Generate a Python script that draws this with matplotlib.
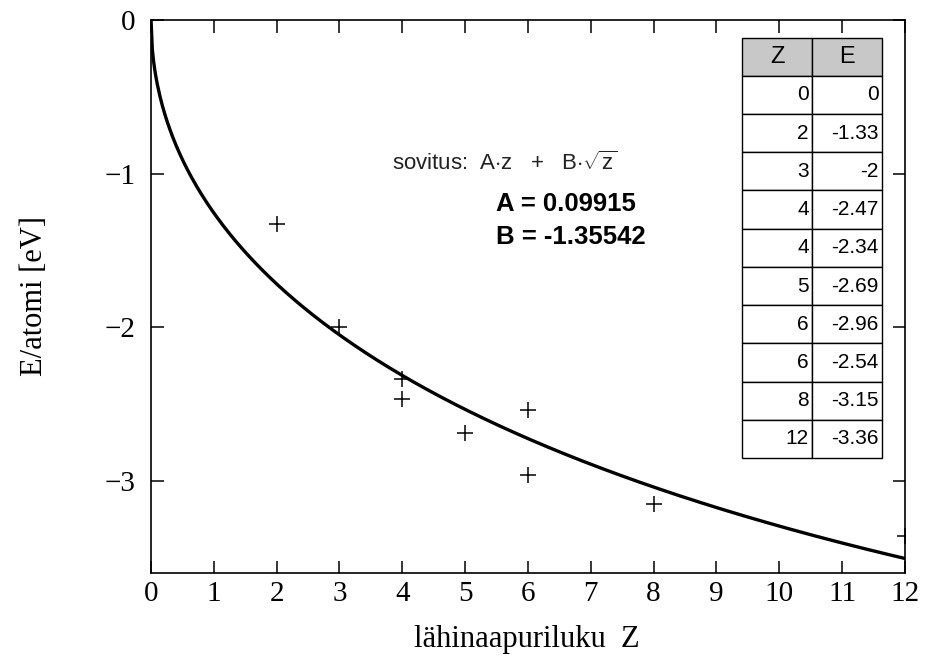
import matplotlib.pyplot as plt
import numpy as np

z_values = [0, 2, 3, 4, 4, 5, 6, 6, 8, 12]
E_values = [0, -1.33, -2, -2.47, -2.34, -2.69, -2.96, -2.54, -3.15, -3.36]
E_labels = ['0', '-1.33', '-2', '-2.47', '-2.34', '-2.69', '-2.96', '-2.54', '-3.15', '-3.36']

# fit parameters
A = 0.09915
B = -1.35542

plt.rcParams['mathtext.fontset'] = 'custom'
plt.rcParams['mathtext.rm'] = 'Liberation Sans'
plt.rcParams['mathtext.it'] = 'Liberation Sans'

fig = plt.figure(figsize=(9.3, 6.7), dpi=100)
ax = fig.add_axes([0.1624, 0.1448, 0.8106, 0.8254])

z_fit = np.linspace(0, 12, 600)
ax.plot(z_fit, A * z_fit + B * np.sqrt(z_fit), color='black', linewidth=2.4)
ax.plot(z_values, E_values, linestyle='none', marker='+', markersize=12,
        markeredgewidth=1.1, color='black')

ax.set_xlim(0, 12)
ax.set_ylim(-3.6, 0)
ax.set_xticks(range(0, 13))
ax.set_yticks([0, -1, -2, -3])
ax.tick_params(direction='in', length=9, width=1.1, top=True, right=True,
               labelsize=21)
ax.tick_params(axis='x', pad=6)
ax.tick_params(axis='y', pad=11)
for lbl in ax.get_xticklabels() + ax.get_yticklabels():
    lbl.set_fontfamily('Liberation Serif')
for s in ax.spines.values():
    s.set_linewidth(1.2)

ax.set_xlabel('lähinaapuriluku  Z', fontsize=22, family='Liberation Serif')
ax.set_ylabel('E/atomi [eV]', fontsize=22, family='Liberation Serif')
ax.xaxis.set_label_coords(0.499, -0.094)
ax.yaxis.set_label_coords(-0.135, 0.5)

# fit annotation
ax.text(0.319, 0.741, r'sovitus:  A$\cdot$z   +   B$\cdot\sqrt{\mathrm{z}}$', transform=ax.transAxes,
        fontsize=16, family='Liberation Sans', color='#222222', va='center')
ax.text(0.457, 0.668, 'A = 0.09915', transform=ax.transAxes, fontsize=18.5,
        family='Liberation Sans', fontweight='bold', va='center')
ax.text(0.457, 0.608, 'B = -1.35542', transform=ax.transAxes, fontsize=18.5,
        family='Liberation Sans', fontweight='bold', va='center')

# data table
cells = [[str(z), e] for z, e in zip(z_values, E_labels)]
tbl = ax.table(cellText=cells, colLabels=['Z', 'E'], cellLoc='right',
               bbox=[0.784, 0.208, 0.186, 0.760])
tbl.auto_set_font_size(False)
tbl.set_fontsize(15)
for (r, c), cell in tbl.get_celld().items():
    cell.set_linewidth(1.0)
    cell.get_text().set_fontfamily('Liberation Sans')
    cell.PAD = 0.05
    if r == 0:
        cell.set_facecolor('#c8c8c8')
        cell.get_text().set_ha('center')
        cell.get_text().set_fontsize(17)
        cell._loc = 'center'

fig.savefig('out.png', dpi=100)
